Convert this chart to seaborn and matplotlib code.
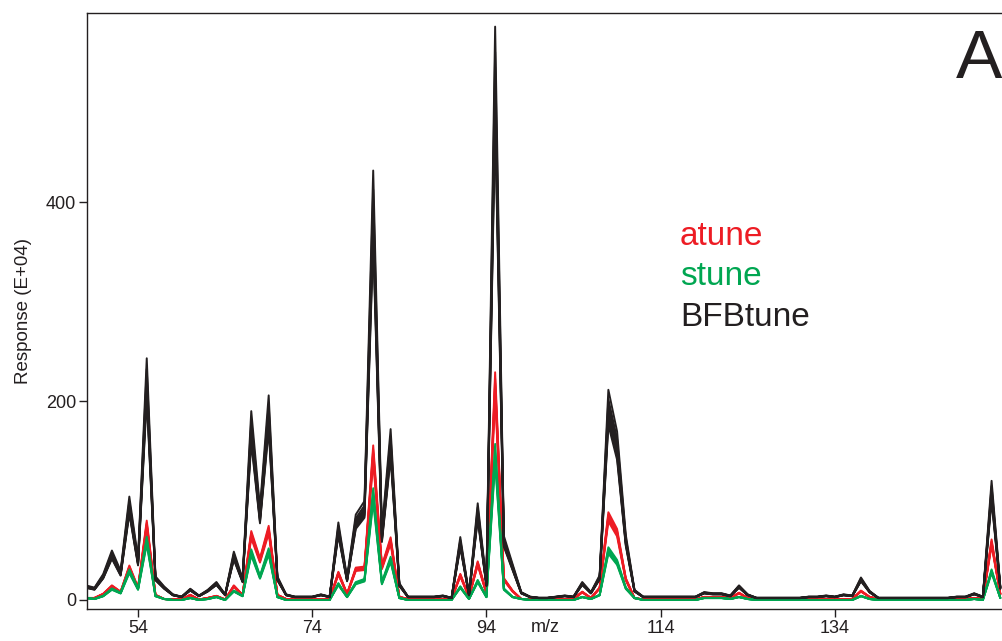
import numpy as np
import pandas as pd
import matplotlib
matplotlib.use("Agg")
import matplotlib.pyplot as plt
import seaborn as sns

# m/z channels of the scan
mz = list(range(48, 154))

# Mean response (E+04) per tune, one value per m/z channel (48 ... 153)
bfbtune = [13, 11, 23, 44, 26, 92, 37, 215, 21, 12,   # 48-57
           5, 3, 10, 4, 9, 16, 5, 43, 19, 168,        # 58-67
           82, 182, 21, 5, 3, 3, 3, 5, 3, 69,         # 68-77
           20, 76, 88, 382, 62, 152, 15, 3, 3, 3,     # 78-87
           3, 4, 2, 56, 5, 86, 15, 510, 57, 32,       # 88-97
           7, 3, 2, 2, 3, 4, 3, 16, 7, 22,            # 98-107
           187, 150, 58, 9, 3, 3, 3, 3, 3, 3,         # 108-117
           3, 7, 6, 6, 4, 13, 5, 2, 2, 2,             # 118-127
           2, 2, 2, 3, 3, 4, 3, 5, 4, 20,             # 128-137
           8, 2, 2, 2, 2, 2, 2, 2, 2, 2,              # 138-147
           3, 3, 6, 3, 106, 12]                       # 148-153

atune = [2, 2, 6, 14, 8, 33, 12, 76, 5, 1,
         0.5, 0.5, 5, 0.5, 2, 4, 0.5, 14, 5, 66,
         40, 71, 5, 1, 0.5, 0.5, 0.5, 0.5, 0.5, 27,
         6, 31, 32, 148, 33, 60, 3, 1, 1, 1,
         1, 1, 1, 25, 3, 37, 7, 218, 21, 9,
         1, 1, 0.5, 0.5, 1, 1, 1, 8, 2, 12,
         84, 68, 21, 2, 0.5, 0.5, 0.5, 0.5, 0.5, 0.5,
         0.5, 3, 3, 3, 2, 7, 2, 1, 1, 1,
         1, 1, 1, 1, 1, 1, 1, 1, 1, 9,
         3, 1, 1, 1, 1, 1, 1, 1, 1, 1,
         1, 1, 2, 1, 58, 6]

stune = [2, 1, 4, 11, 7, 29, 11, 60, 4, 1,
         0, 0, 2, 0, 1, 3, 0, 9, 4, 48,
         23, 49, 3, 0, 0, 0, 0, 0, 0, 16,
         3, 17, 20, 106, 17, 41, 2, 0, 0, 0,
         0, 0, 0, 13, 1, 19, 3, 148, 11, 3,
         1, 0, 0, 0, 0, 0, 0, 3, 1, 5,
         50, 38, 12, 2, 0, 0, 0, 0, 0, 0,
         0, 2, 2, 2, 1, 3, 1, 0, 0, 0,
         0, 0, 0, 0, 0, 0, 0, 0, 0, 4,
         1, 0, 0, 0, 0, 0, 0, 0, 0, 0,
         0, 0, 1, 0, 29, 2]

# Relative response of each replicate injection within a tune
bfbtune_reps = [0.94, 0.96, 0.98, 1.00, 1.01, 1.03, 1.05, 1.08, 1.13]
atune_reps = [0.94, 0.97, 0.99, 1.00, 1.02, 1.05]
stune_reps = [0.93, 0.96, 1.00, 1.02, 1.06]

tunes = ["atune", "stune", "BFBtune"]
colors = {"atune": "#ED1C24", "stune": "#00A651", "BFBtune": "#231F20"}

frames = []
for name, means, reps in [("atune", atune, atune_reps),
                          ("stune", stune, stune_reps),
                          ("BFBtune", bfbtune, bfbtune_reps)]:
    for i, g in enumerate(reps):
        frames.append(pd.DataFrame({
            "mz": mz,
            "response": np.asarray(means, dtype=float) * g,
            "tune": name,
            "rep": f"{name}-{i}",
        }))
df = pd.concat(frames, ignore_index=True)

sns.set_theme(style="ticks")
plt.rcParams["font.family"] = ["Liberation Sans", "DejaVu Sans"]

W, H = 1003, 641
fig = plt.figure(figsize=(W / 100, H / 100), dpi=100)
ax = fig.add_axes([87 / W, 1 - 609 / H, (W - 87) / W, (609 - 13) / H])

sns.lineplot(data=df, x="mz", y="response", hue="tune", units="rep",
             estimator=None, hue_order=tunes, palette=colors,
             linewidth=1.4, legend=False, ax=ax, sort=False)

ax.set_xlim(48.14, 153.31)
ax.set_ylim(-9.05, 590)
ax.set_xticks([54, 74, 94, 114, 134])
ax.set_yticks([0, 200, 400])
ax.tick_params(axis="both", direction="out", length=6, width=1.0,
               color="#231F20", labelsize=13, labelcolor="#231F20", pad=2)

for side in ["left", "bottom", "top"]:
    ax.spines[side].set_color("#231F20")
    ax.spines[side].set_linewidth(1.0)
ax.spines["right"].set_visible(False)

ax.set_xlabel("m/z", fontsize=13, color="#231F20")
ax.xaxis.set_label_coords(0.5, -0.017)
ax.set_ylabel("Response (E+04)", fontsize=13.5, color="#231F20", labelpad=10)

# Colored tune labels
fig.text(680 / W, 1 - 245 / H, "atune", color=colors["atune"], fontsize=24,
         va="baseline", ha="left")
fig.text(680 / W, 1 - 285 / H, "stune", color=colors["stune"], fontsize=24,
         va="baseline", ha="left")
fig.text(680 / W, 1 - 326 / H, "BFBtune", color=colors["BFBtune"], fontsize=24,
         va="baseline", ha="left")

# Panel letter
fig.text(956 / W, 1 - 78 / H, "A", color="#231F20", fontsize=50,
         va="baseline", ha="left")

fig.savefig("out.png", dpi=100)
